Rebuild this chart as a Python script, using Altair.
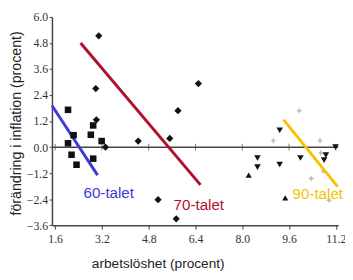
import altair as alt
import pandas as pd

# 60-talet (squares)
sq_x = [2.04, 2.23, 2.04, 2.16, 2.33, 2.82, 2.90, 3.19, 2.90]
sq_y = [1.72, 0.55, 0.18, -0.35, -0.81, 0.57, 1.00, 0.28, -0.53]
# 70-talet (diamonds)
di_x = [3.01, 2.99, 3.09, 3.32, 4.44, 5.12, 5.52, 5.74, 5.80, 6.50]
di_y = [1.26, 2.70, 5.13, 0.00, 0.28, -2.42, 0.40, -3.30, 1.68, 2.93]
# down triangles
td_x = [9.28, 8.52, 8.52, 9.28, 9.99, 10.86, 10.80, 11.19]
td_y = [0.78, -0.50, -0.92, -0.80, -0.50, -0.37, -0.60, 0.00]
# up triangles
tu_x = [8.22, 9.47]
tu_y = [-1.29, -2.34]
# grey stars
gs_x = [9.95, 9.06, 10.66, 10.69, 10.77, 10.36, 10.97]
gs_y = [1.68, 0.30, 0.30, -0.27, -1.10, -1.44, -2.45]

# trend lines
line_names = ["60-talet", "60-talet", "70-talet", "70-talet", "90-talet", "90-talet"]
line_x = [1.49, 3.05, 2.47, 6.57, 9.41, 11.26]
line_y = [1.92, -1.29, 4.80, -1.74, 1.27, -1.82]

# labels
lab_text = ["60-talet", "70-talet", "90-talet"]
lab_x = [2.57, 5.65, 9.72]
lab_y = [-2.33, -2.90, -2.40]
lab_colors = ["#3b3bd6", "#b0102c", "#f7c300"]

x_ticks = [1.6, 3.2, 4.8, 6.4, 8.0, 9.6, 11.2]
y_ticks = [-3.6, -2.4, -1.2, 0.0, 1.2, 2.4, 3.6, 4.8, 6.0]

XDOM = [1.49, 11.28]
YDOM = [-3.6, 6.0]

X = alt.X("x:Q", scale=alt.Scale(domain=XDOM, nice=False, zero=False),
          axis=alt.Axis(values=x_ticks, format=".1f", grid=False,
                        title="arbetslöshet (procent)",
                        titleX=40.3, titleY=43.7, titleAlign="left",
                        titleBaseline="alphabetic", titleAnchor="start"))
Y = alt.Y("y:Q", scale=alt.Scale(domain=YDOM, nice=False, zero=False),
          axis=alt.Axis(values=y_ticks, format=".1f", grid=False,
                        title="förändring i inflation (procent)",
                        titleX=-32.2, titleY=108.5, titleAngle=270,
                        titleAlign="center", titleBaseline="alphabetic"))


def pts(xs, ys, shape, size, color):
    df = pd.DataFrame({"x": xs, "y": ys})
    return alt.Chart(df).mark_point(shape=shape, size=size, filled=True,
                                    color=color, opacity=1).encode(x=X, y=Y)


zero_df = pd.DataFrame({"x": [XDOM[0], XDOM[1]], "y": [0, 0]})
zero_line = alt.Chart(zero_df).mark_line(color="#444", strokeWidth=1.5).encode(x=X, y=Y)
tick_df = pd.DataFrame({"x": x_ticks, "y": [0] * len(x_ticks)})
zero_ticks = alt.Chart(tick_df).mark_tick(color="#444", orient="vertical",
                                          size=7, thickness=1).encode(x=X, y=Y)

lines_df = pd.DataFrame({"name": line_names, "x": line_x, "y": line_y})
lines = alt.Chart(lines_df).mark_line(strokeWidth=3).encode(
    x=X, y=Y, detail="name:N",
    color=alt.Color("name:N", scale=alt.Scale(domain=lab_text, range=lab_colors), legend=None))

labels_df = pd.DataFrame({"name": lab_text, "x": lab_x, "y": lab_y})
labels = alt.Chart(labels_df).mark_text(align="left", baseline="alphabetic",
                                        font="Liberation Sans", fontSize=15.5).encode(
    x=X, y=Y, text="name:N",
    color=alt.Color("name:N", scale=alt.Scale(domain=lab_text, range=lab_colors), legend=None))

star = "M0,-1L0.3,-0.3L1,0L0.3,0.3L0,1L-0.3,0.3L-1,0L-0.3,-0.3Z"

chart = alt.layer(
    zero_line, zero_ticks,
    pts(gs_x, gs_y, star, 45, "#bdbdbd"),
    lines,
    pts(sq_x, sq_y, "square", 45, "#111"),
    pts(di_x, di_y, "diamond", 55, "#111"),
    pts(td_x, td_y, "triangle-down", 45, "#111"),
    pts(tu_x, tu_y, "triangle-up", 40, "#111"),
    labels,
).properties(
    width=293, height=213.3,
    autosize=alt.AutoSizeParams(type="none"),
    padding={"left": 45, "top": 6, "right": 7, "bottom": 45},
).configure_view(stroke=None).configure_axis(
    domainColor="#444", domainWidth=1.5, tickColor="#444", tickWidth=1,
    labelColor="#333", labelFont="Liberation Sans Narrow", labelFontSize=12,
    titleFont="Liberation Sans", titleFontSize=14.5, titleFontWeight="normal",
    titleColor="#222",
).configure_axisX(tickSize=4, labelPadding=4.5, titleFontSize=14
).configure_axisY(tickSize=3, labelPadding=1.5)

chart.save("out.html", embed_options={"renderer": "svg", "actions": False})
